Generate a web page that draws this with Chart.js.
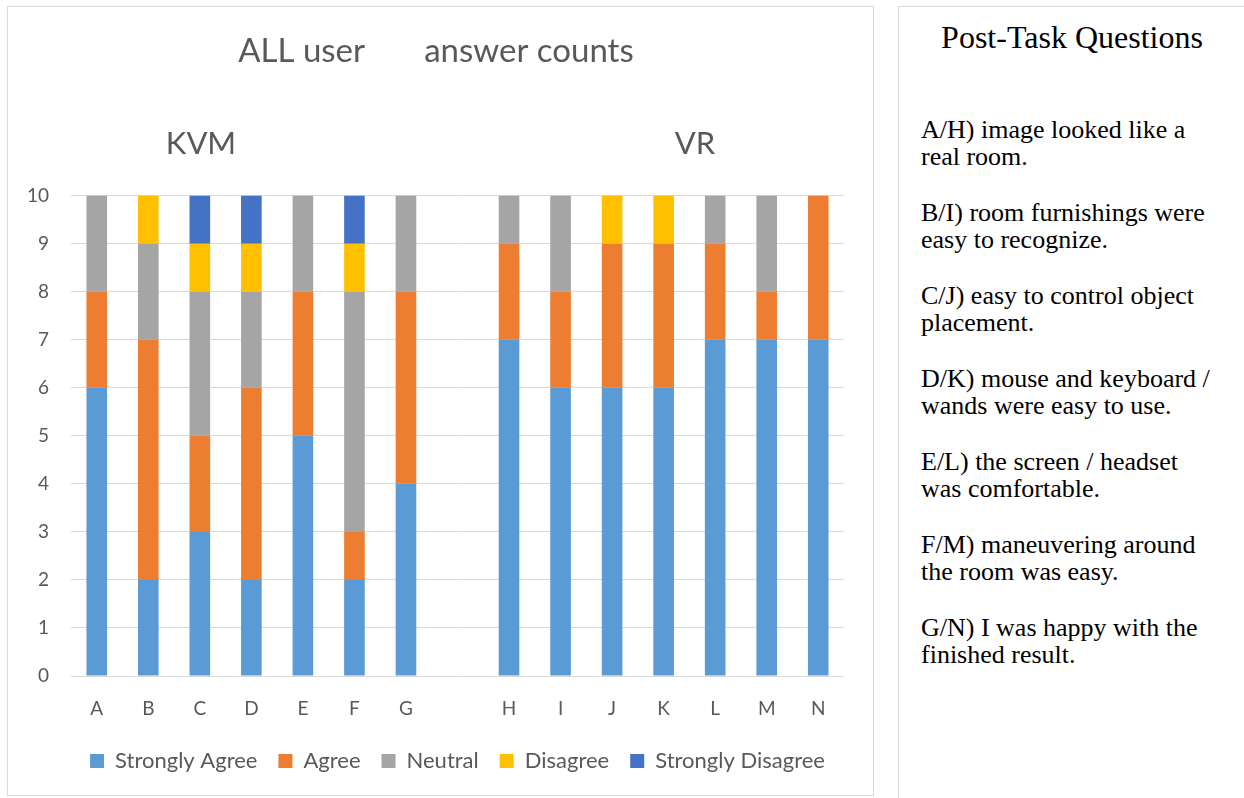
<!DOCTYPE html>
<html>
<head>
<meta charset="utf-8">
<script src="https://cdn.jsdelivr.net/npm/chart.js@4.4.1/dist/chart.umd.min.js"></script>
<style>
  html, body { margin: 0; padding: 0; background: #ffffff; }
  body { width: 1244px; height: 798px; position: relative; overflow: hidden; }
  #chartBox { position: absolute; left: 7px; top: 6px; width: 867px; height: 790px; border: 1px solid #d9d9d9; box-sizing: border-box; }
  #chartBox canvas { position: absolute; left: 0; top: 0; }
  .grp { position: absolute; font-family: Lato, "Open Sans", sans-serif; font-size: 31px; color: #595959; transform: translate(-50%, -50%); white-space: nowrap; }
  #panel { position: absolute; left: 898px; top: 6px; width: 360px; height: 800px; border: 1px solid #d9d9d9; border-right: none; border-bottom: none; box-sizing: border-box; font-family: "Liberation Serif", "Times New Roman", serif; color: #000; }
  #panel h2 { position: absolute; left: 0; width: 346px; top: 11px; margin: 0; font-weight: normal; font-size: 32px; text-align: center; line-height: 38px; }
  #panel .q { position: absolute; left: 22px; width: 300px; font-size: 26px; line-height: 27px; margin: 0; }
</style>
</head>
<body>
<div id="chartBox"><canvas id="c" width="865" height="788"></canvas></div>
<div class="grp" id="kvm" style="left:201px; top:142px;">KVM</div>
<div class="grp" id="vr" style="left:695px; top:142px;">VR</div>
<div id="panel">
  <h2>Post-Task Questions</h2>
</div>
<script>
const categories = ["A","B","C","D","E","F","G","","H","I","J","K","L","M","N"];
const seriesNames = ["Strongly Agree","Agree","Neutral","Disagree","Strongly Disagree"];
const stronglyAgree    = [6,2,3,2,5,2,4,null,7,6,6,6,7,7,7];
const agree            = [2,5,2,4,3,1,4,null,2,2,3,3,2,1,3];
const neutral          = [2,2,3,2,2,5,2,null,1,2,0,0,1,2,0];
const disagree         = [0,1,1,1,0,1,0,null,0,0,1,1,0,0,0];
const stronglyDisagree = [0,0,1,1,0,1,0,null,0,0,0,0,0,0,0];
const yTicks = [0,1,2,3,4,5,6,7,8,9,10];
const titleText = "ALL user       answer counts";
const questions = [
  "A/H) image looked like a real room.",
  "B/I) room furnishings were easy to recognize.",
  "C/J) easy to control object placement.",
  "D/K) mouse and keyboard / wands were easy to use.",
  "E/L) the screen / headset was comfortable.",
  "F/M) maneuvering around the room was easy.",
  "G/N) I was happy with the finished result."
];
const colors = ["#5B9BD5","#ED7D31","#A5A5A5","#FFC000","#4472C4"];

const panel = document.getElementById('panel');
questions.forEach((q, i) => {
  const p = document.createElement('p');
  p.className = 'q';
  p.style.top = (109 + i * 83) + 'px';
  p.textContent = q;
  panel.appendChild(p);
});

const allSeries = [stronglyAgree, agree, neutral, disagree, stronglyDisagree];
Chart.defaults.font.family = "Lato, 'Open Sans', sans-serif";
Chart.defaults.color = "#595959";

// Center the legend on the plot area (as in the reference) instead of on the whole canvas
const legendCenterPlugin = {
  id: 'legendCenter',
  afterLayout(chart) {
    const lg = chart.legend;
    if (!lg) return;
    const ca = chart.chartArea;
    const d = (ca.left + ca.right) / 2 - (lg.left + lg.right) / 2;
    lg.left += d; lg.right += d;
  }
};

new Chart(document.getElementById('c'), {
  type: 'bar',
  data: {
    labels: categories,
    datasets: allSeries.map((d, i) => ({
      label: seriesNames[i],
      data: d,
      backgroundColor: colors[i],
      borderWidth: 0,
      barPercentage: 0.4,
      categoryPercentage: 1.0
    }))
  },
  plugins: [legendCenterPlugin],
  options: {
    responsive: false,
    animation: false,
    layout: { padding: { left: 20, right: 29, top: 0, bottom: 13 } },
    plugins: {
      title: {
        display: true,
        text: titleText,
        font: { size: 33, weight: 'normal' },
        color: '#595959',
        padding: { top: 25, bottom: 124 }
      },
      legend: {
        position: 'bottom',
        labels: {
          boxWidth: 14, boxHeight: 14,
          font: { size: 22 },
          color: '#595959',
          padding: 21
        }
      },
      tooltip: { enabled: false }
    },
    scales: {
      x: {
        stacked: true,
        afterFit: (s) => { s.height = 53; },
        grid: { display: false, drawTicks: false },
        border: { display: false },
        ticks: { font: { size: 19 }, color: '#595959', padding: 21 }
      },
      y: {
        stacked: true,
        min: 0, max: 10,
        afterBuildTicks: (s) => { s.ticks = yTicks.map(v => ({ value: v })); },
        afterFit: (s) => { s.width = 43; },
        grid: { color: '#d9d9d9', drawTicks: false, lineWidth: 1 },
        border: { display: false },
        ticks: { font: { size: 19 }, color: '#595959', padding: 22 }
      }
    }
  }
});
</script>
</body>
</html>
